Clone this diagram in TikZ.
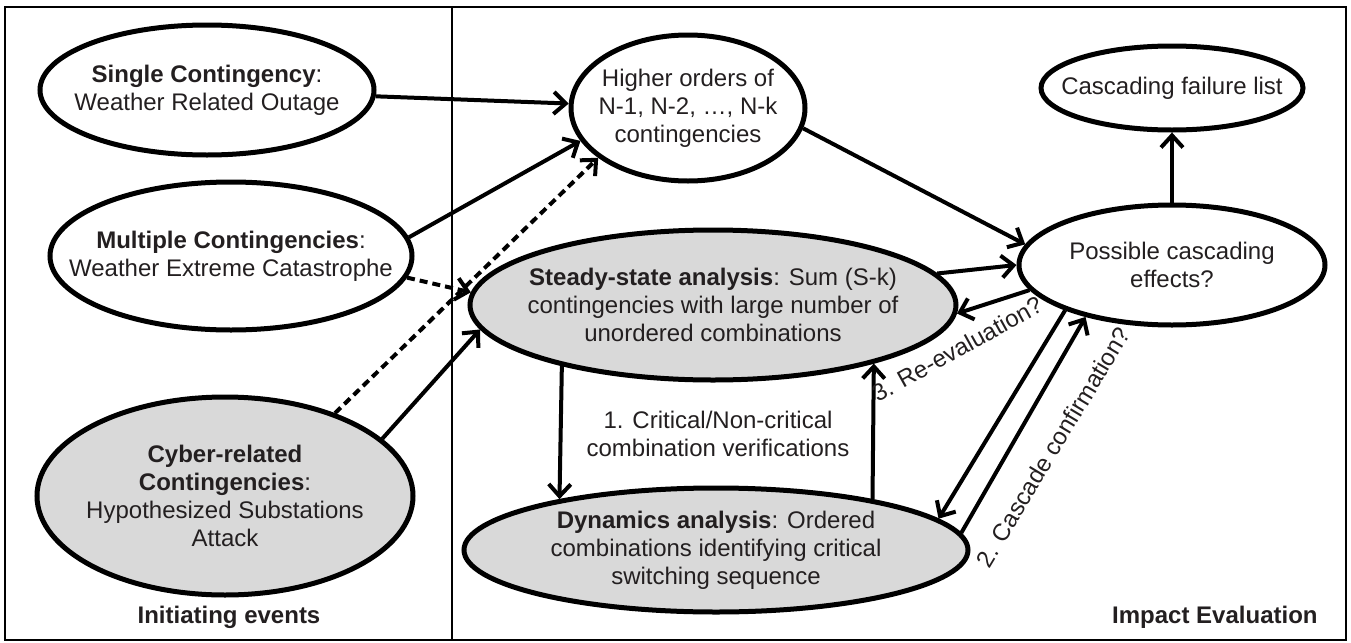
\documentclass[tikz,border=0pt]{standalone}
\usepackage{fontspec}
\setmainfont{Liberation Sans}
\usepackage{tikz}
\usetikzlibrary{shapes.geometric,arrows.meta}
\definecolor{boxgray}{RGB}{217,217,217}
\definecolor{txtgray}{RGB}{35,31,32}
\tikzset{
  font={\fontsize{12pt}{14pt}\selectfont},
  evt/.style={draw=black,ellipse,line width=2.5pt,text=txtgray,align=center,inner xsep=-20pt,inner ysep=-2pt},
  conn/.style={line width=2pt,-{Straight Barb[length=6pt,width=11pt]}},
  hypo/.style={conn,dash pattern=on 4pt off 2.5pt}}
\begin{document}
\begin{tikzpicture}[x=0.5pt,y=-0.5pt]
\tikzstyle{every node}+=[inner sep=0pt]
\useasboundingbox (0,0) rectangle (1351,643);
\draw [line width=1pt] (5,7) rectangle (1346,640);
\draw [line width=1pt] (452,7) -- (452,640);
\node [evt,minimum width=167pt,minimum height=65pt] (single) at (207,90) {\textbf{Single Contingency}:\\Weather Related Outage};
\node [evt,minimum width=181pt,minimum height=74pt] (multi) at (231,256) {\textbf{Multiple Contingencies}:\\Weather Extreme Catastrophe};
\node [evt,fill=boxgray,minimum width=188pt,minimum height=99pt] (cyber) at (225,496) {\textbf{Cyber-related}\\\textbf{Contingencies}:\\Hypothesized Substations\\Attack};
\node [evt,minimum width=117pt,minimum height=73pt] (higher) at (688,108) {Higher orders of\\N-1, N-2, …, N-k\\contingencies};
\node [evt,fill=boxgray,minimum width=243pt,minimum height=75pt] (steady) at (713,305) {\textbf{Steady-state analysis}: Sum (S-k)\\contingencies with large number of\\unordered combinations};
\node [evt,fill=boxgray,minimum width=252pt,minimum height=62pt] (dyn) at (716,550) {\textbf{Dynamics analysis}: Ordered\\combinations identifying critical\\switching sequence};
\node [evt,minimum width=153pt,minimum height=60pt] (possible) at (1172,265) {Possible cascading\\effects?};
\node [evt,minimum width=131pt,minimum height=42pt] (cfl) at (1172,88) {Cascading failure list};
\draw [conn] (single) -- (higher);
\draw [conn] (multi.6) -- (higher.197);
\draw [hypo] (multi.-7) -- (steady.177);
\draw [hypo] (cyber.37) -- (higher.209);
\draw [conn] (cyber.20) -- (steady.186);
\draw [conn] (higher.-10) -- (possible.172);
\draw [conn] (steady.8) -- (possible.180);
\draw [conn] (possible.190) -- (steady.-2);
\draw [conn] (possible.north) -- (cfl.south);
\draw [conn] (steady.202) -- (dyn.162);
\draw [conn] (dyn.18) -- (steady.-20);
\draw [conn] (possible.203) -- (dyn.8);
\draw [conn] (dyn.4) -- (possible.211);
\node [text=txtgray,align=center] (verif) at (718,434) {1. Critical/Non-critical\\combination verifications};
\node [text=txtgray,rotate=29] (reeval) at (957,349) {3. Re-evaluation?};
\node [text=txtgray,rotate=59] (confirm) at (1053,447) {2. Cascade confirmation?};
\node [text=txtgray] (init) at (229,617) {\textbf{Initiating events}};
\node [text=txtgray,anchor=east] (impact) at (1318,617) {\textbf{Impact Evaluation}};
\end{tikzpicture}
\end{document}
